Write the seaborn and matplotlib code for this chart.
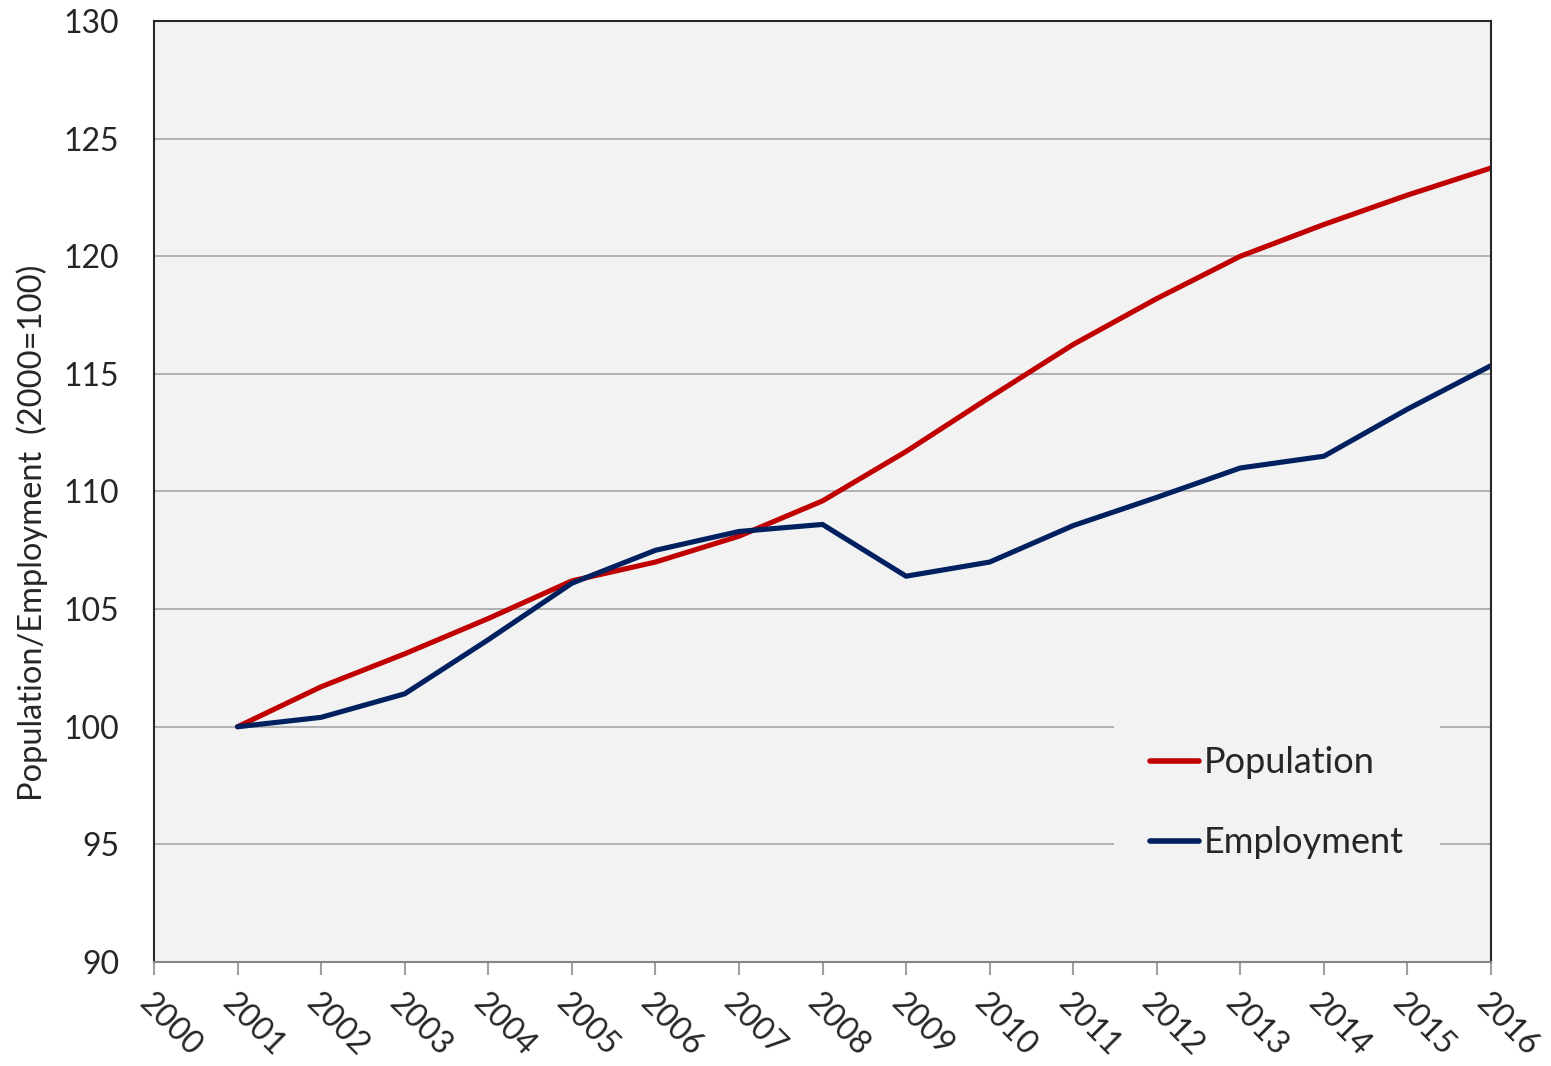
import matplotlib
matplotlib.use("Agg")
import matplotlib.pyplot as plt
import seaborn as sns
import pandas as pd

years = list(range(2001, 2017))
population = [100.0, 101.7, 103.1, 104.6, 106.2, 107.0, 108.1, 109.6, 111.7,
              114.0, 116.25, 118.2, 120.0, 121.35, 122.6, 123.75]
employment = [100.0, 100.4, 101.4, 103.7, 106.1, 107.5, 108.3, 108.6, 106.4,
              107.0, 108.55, 109.75, 111.0, 111.5, 113.5, 115.35]
series_names = ["Population", "Employment"]
tick_years = list(range(2000, 2017))
y_ticks = [90, 95, 100, 105, 110, 115, 120, 125, 130]

df = pd.DataFrame({
    "Year": years * 2,
    "Value": population + employment,
    "Series": [series_names[0]] * len(years) + [series_names[1]] * len(years),
})

sns.set_theme(style="white")
plt.rcParams["font.family"] = ["Lato", "DejaVu Sans"]

fig = plt.figure(figsize=(15.51, 10.66), dpi=100)
ax = fig.add_axes([154 / 1551, 1 - 962 / 1066, (1491 - 154) / 1551, (962 - 21) / 1066])
ax.set_facecolor("#f2f2f2")

sns.lineplot(data=df, x="Year", y="Value", hue="Series",
             palette={"Population": "#c00000", "Employment": "#002060"},
             linewidth=3.7, ax=ax, legend=True, solid_capstyle="round")

ax.set_xlim(2000, 2016)
ax.set_ylim(90, 130)
ax.set_yticks(y_ticks)
ax.set_yticklabels([str(v) for v in y_ticks], fontsize=23)
ax.set_xticks(tick_years)
ax.set_xticklabels([str(y) for y in tick_years], fontsize=23, rotation=-45,
                   ha="left", va="top", rotation_mode="anchor")
ax.tick_params(axis="x", direction="out", length=9, width=1.5, color="#a0a0a0",
               pad=10, bottom=True)
ax.tick_params(axis="y", length=0, pad=25)

ax.yaxis.grid(True, color="#a6a6a6", linewidth=1.2)
ax.xaxis.grid(False)
ax.set_axisbelow(True)

for side in ["top", "right", "left"]:
    ax.spines[side].set_color("#262626")
    ax.spines[side].set_linewidth(1.5)
ax.spines["bottom"].set_color("#868686")
ax.spines["bottom"].set_linewidth(1.5)

ax.set_xlabel("")
ax.set_ylabel("Population/Employment  (2000=100)", fontsize=23.5)
ax.yaxis.set_label_coords(-0.091, 0.456)
ax.yaxis.label.set_va("center")

handles, labels = ax.get_legend_handles_labels()
leg = ax.legend(handles, labels, loc="center", bbox_to_anchor=(0.84, 0.169),
                fontsize=26, frameon=True, facecolor="#f2f2f2", edgecolor="none",
                framealpha=1.0, handlelength=1.35, handletextpad=0.15,
                labelspacing=1.3, borderpad=1.0, fancybox=False,
                borderaxespad=0)
for h in leg.get_lines():
    h.set_linewidth(4.0)
    h.set_solid_capstyle("round")

fig.savefig("out.png", dpi=100)
